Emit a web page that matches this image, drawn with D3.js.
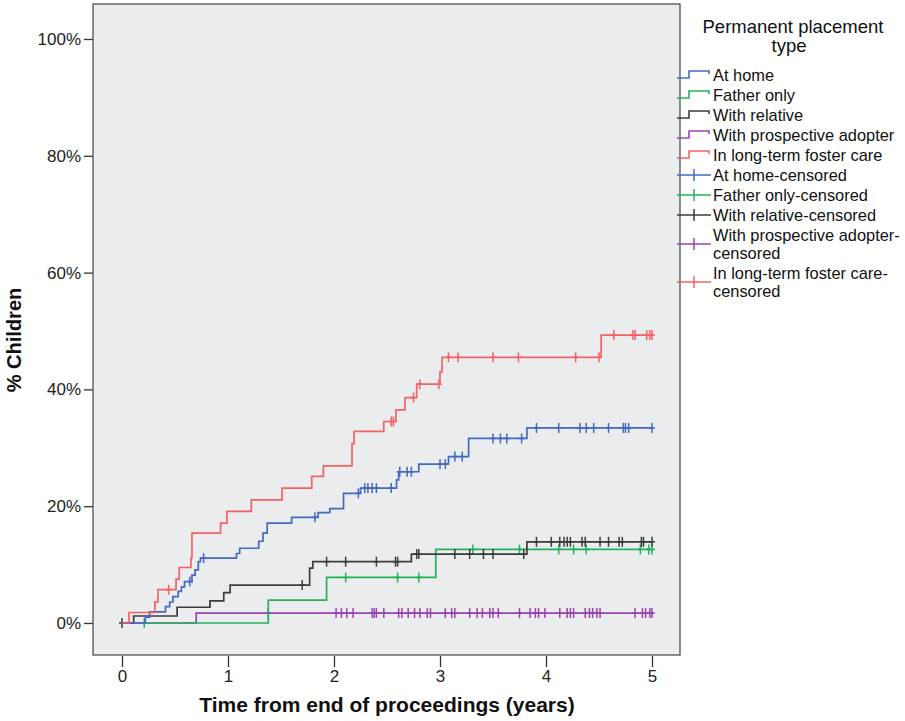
<!DOCTYPE html>
<html>
<head>
<meta charset="utf-8">
<script src="https://cdn.jsdelivr.net/npm/d3@7"></script>
<style>
body { margin: 0; background: #fff; }
text { font-family: "Liberation Sans", Arial, sans-serif; }
</style>
</head>
<body>
<script>
// values: [time in years, % children]
var timeTicks = [0, 1, 2, 3, 4, 5];
var pctTicks = [0, 20, 40, 60, 80, 100];
var endTime = 5.0;

var groupNames = ["At home", "Father only", "With relative", "With prospective adopter", "In long-term foster care"];
var groupColors = ["#4468c4", "#22b25c", "#3c3c3c", "#9a44b0", "#f56266"];

var atHomeSteps = [[0,0],[0.22,1.0],[0.26,1.9],[0.41,2.8],[0.45,3.6],[0.48,4.5],[0.53,5.4],[0.56,6.2],[0.59,7.1],
  [0.66,8.2],[0.69,9.1],[0.72,10.5],[0.74,11.1],[1.08,11.9],[1.11,12.8],[1.29,14.0],[1.33,15.4],[1.37,17.1],
  [1.60,18.1],[1.85,18.9],[1.96,19.6],[2.09,22.2],[2.25,23.1],[2.59,24.5],[2.61,25.9],[2.80,27.2],[3.08,28.5],
  [3.27,31.6],[3.82,33.4]];
var atHomeCensored = [0.64,0.77,1.82,2.23,2.29,2.32,2.36,2.40,2.54,2.62,2.69,2.73,3.00,3.05,3.14,3.21,3.50,3.57,
  3.63,3.77,3.91,4.12,4.32,4.38,4.45,4.59,4.73,4.75,4.78,5.0];

var fatherSteps = [[0.21,0],[1.38,3.9],[1.93,7.8],[2.96,12.6]];
var fatherCensored = [0.21,2.11,2.60,2.80,3.31,3.75,4.12,4.26,4.38,4.89,4.97,5.0];

var relativeSteps = [[0,0],[0.11,1.2],[0.52,2.7],[0.83,3.8],[0.96,5.2],[1.02,6.5],[1.77,9.4],[1.80,10.5],[2.73,11.8],[3.82,13.9]];
var relativeCensored = [0,1.70,1.93,2.11,2.40,2.58,2.60,2.78,2.80,3.14,3.28,3.41,3.50,3.79,3.91,4.05,4.13,4.17,4.20,
  4.23,4.34,4.37,4.51,4.59,4.69,4.72,4.90,4.92,5.0];

var adopterSteps = [[0,0],[0.70,1.7]];
var adopterCensored = [1.38,2.02,2.07,2.12,2.18,2.36,2.38,2.40,2.47,2.61,2.64,2.70,2.76,2.81,2.88,2.91,3.05,3.11,3.14,
  3.28,3.35,3.40,3.47,3.50,3.55,3.75,3.85,3.90,3.93,3.99,4.13,4.20,4.23,4.26,4.37,4.41,4.44,4.48,4.51,4.84,4.91,
  4.94,4.98,5.0];

var fosterSteps = [[0,0],[0.066,1.8],[0.31,3.6],[0.34,5.7],[0.51,7.5],[0.54,9.5],[0.65,11.1],[0.66,15.4],[0.93,17.1],
  [0.99,19.1],[1.22,21.1],[1.51,23.1],[1.79,25.1],[1.90,26.9],[2.17,30.7],[2.19,32.8],[2.47,34.5],[2.585,36.5],
  [2.67,38.6],[2.78,40.9],[3.0,43.0],[3.02,45.5],[4.52,49.3]];
var fosterCensored = [0.44,2.54,2.56,2.75,2.81,2.99,3.08,3.17,3.50,3.74,4.28,4.50,4.64,4.82,4.84,4.95,4.98,5.0];

var allSteps = [atHomeSteps, fatherSteps, relativeSteps, adopterSteps, fosterSteps];
var allCensored = [atHomeCensored, fatherCensored, relativeCensored, adopterCensored, fosterCensored];
var drawOrder = [3, 1, 2, 0, 4];

var svg = d3.select("body").append("svg")
    .attr("width", 905)
    .attr("height", 721);

var x = d3.scaleLinear().domain([0, 5]).range([122, 652]);
var y = d3.scaleLinear().domain([0, 100]).range([623, 39]);

// plot panel
svg.append("rect")
    .attr("x", 93).attr("y", 4)
    .attr("width", 587).attr("height", 651)
    .attr("fill", "#ebeced")
    .attr("stroke", "#444").attr("stroke-width", 1.2);

var yAxis = svg.append("g")
    .attr("transform", "translate(93,0)")
    .call(d3.axisLeft(y).tickValues(pctTicks).tickFormat(d => d + "%").tickSize(9).tickPadding(3));
var xAxis = svg.append("g")
    .attr("transform", "translate(0,656)")
    .call(d3.axisBottom(x).tickValues(timeTicks).tickFormat(d3.format("d")).tickSize(11).tickPadding(3));
[yAxis, xAxis].forEach(function(a) {
  a.select(".domain").remove();
  a.selectAll(".tick line").attr("stroke", "#333").attr("stroke-width", 1.3);
  a.selectAll(".tick text").attr("font-size", 17).attr("fill", "#222")
      .style("font-family", "'Liberation Sans', Arial, sans-serif");
});

svg.append("text")
    .attr("transform", "translate(21,340) rotate(-90)")
    .attr("text-anchor", "middle")
    .attr("font-size", 20).attr("font-weight", "bold").attr("fill", "#111")
    .text("% Children");
svg.append("text")
    .attr("x", 387).attr("y", 712)
    .attr("text-anchor", "middle")
    .attr("font-size", 21).attr("font-weight", "bold").attr("fill", "#111")
    .text("Time from end of proceedings (years)");

function valueAt(steps, t) {
  var v = steps[0][1];
  steps.forEach(function(s) { if (s[0] <= t) v = s[1]; });
  return v;
}

var line = d3.line()
    .x(d => x(d[0]))
    .y(d => y(d[1]))
    .curve(d3.curveStepAfter);

drawOrder.forEach(function(i) {
  var steps = allSteps[i];
  var pts = steps.concat([[endTime, steps[steps.length - 1][1]]]);
  svg.append("path")
      .attr("d", line(pts))
      .attr("fill", "none")
      .attr("stroke", groupColors[i])
      .attr("stroke-width", 1.7);

  var marks = svg.selectAll(".cens" + i)
      .data(allCensored[i])
      .enter().append("g")
      .attr("class", "cens" + i)
      .attr("transform", d => "translate(" + x(d) + "," + y(valueAt(steps, d)) + ")");
  marks.append("line")
      .attr("x1", 0).attr("x2", 0).attr("y1", -5).attr("y2", 5)
      .attr("stroke", groupColors[i]).attr("stroke-width", 1.5);
  marks.append("line")
      .attr("x1", -3).attr("x2", 3).attr("y1", 0).attr("y2", 0)
      .attr("stroke", groupColors[i]).attr("stroke-width", 1.5);
});

// legend
var legend = svg.append("g");
legend.append("text").attr("x", 793).attr("y", 33).attr("text-anchor", "middle")
    .attr("font-size", 18.5).attr("fill", "#111").text("Permanent placement");
legend.append("text").attr("x", 789).attr("y", 52).attr("text-anchor", "middle")
    .attr("font-size", 18.5).attr("fill", "#111").text("type");

var legendRows = [];
groupNames.forEach(function(n, i) { legendRows.push({lines: [n], color: groupColors[i], censored: false}); });
var censoredLines = [["At home-censored"], ["Father only-censored"], ["With relative-censored"],
  ["With prospective adopter-", "censored"], ["In long-term foster care-", "censored"]];
censoredLines.forEach(function(l, i) { legendRows.push({lines: l, color: groupColors[i], censored: true}); });

var rowY = 75;
legendRows.forEach(function(r) {
  var c = rowY + (r.lines.length - 1) * 9;
  if (r.censored) {
    legend.append("line").attr("x1", 677).attr("x2", 711).attr("y1", c).attr("y2", c)
        .attr("stroke", r.color).attr("stroke-width", 1.5);
    legend.append("line").attr("x1", 694).attr("x2", 694).attr("y1", c - 6).attr("y2", c + 6)
        .attr("stroke", r.color).attr("stroke-width", 1.5);
  } else {
    legend.append("path")
        .attr("d", "M677," + (c + 3) + "H689V" + (c - 4) + "H709V" + (c - 1))
        .attr("fill", "none").attr("stroke", r.color).attr("stroke-width", 1.6);
  }
  r.lines.forEach(function(t, k) {
    legend.append("text").attr("x", 713).attr("y", rowY + k * 18 + 6)
        .attr("font-size", 16.4).attr("fill", "#111").text(t);
  });
  rowY += 20 + (r.lines.length - 1) * 18;
});
</script>
</body>
</html>
